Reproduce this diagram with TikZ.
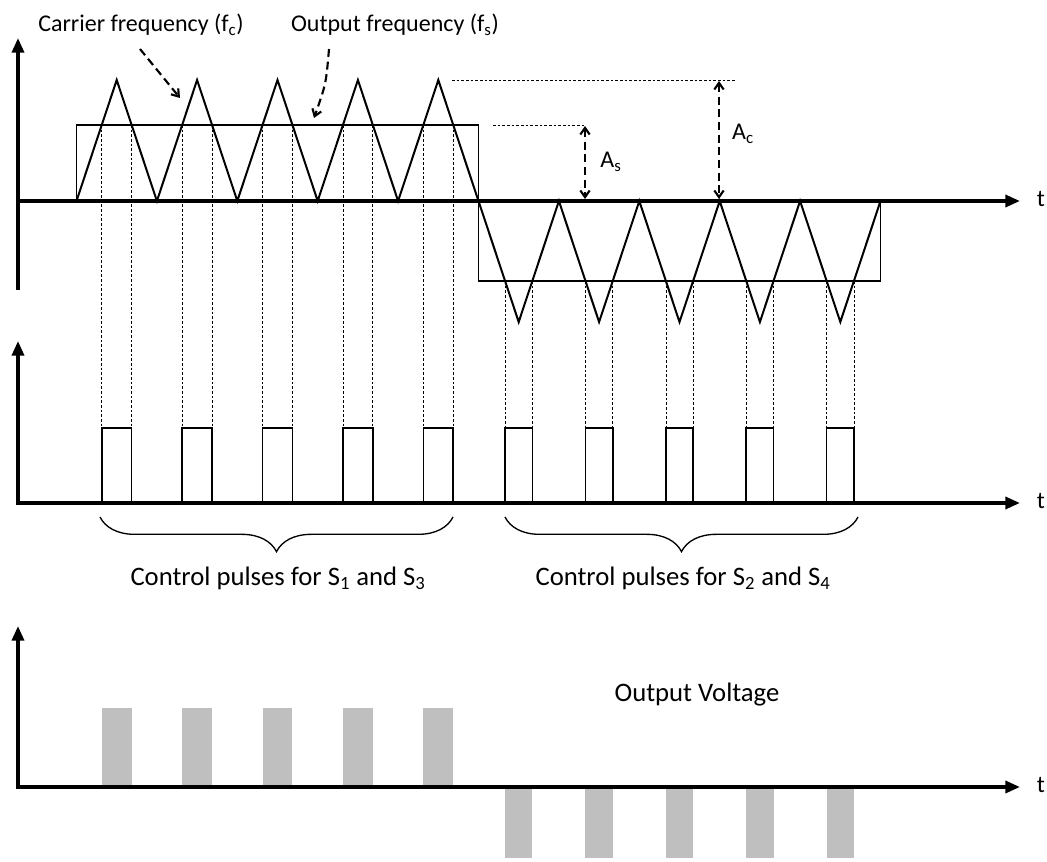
\documentclass[tikz,border=0pt]{standalone}
\usepackage{fontspec}
\setmainfont{Carlito}
\usetikzlibrary{arrows.meta,decorations.pathreplacing}
\begin{document}
\begin{tikzpicture}[x=0.75pt,y=-0.75pt,
  axisline/.style={line width=2.6pt,-{Triangle[length=11pt,width=9pt]}},
  triwave/.style={line width=1.5pt,line join=miter},
  sqwave/.style={line width=1.1pt},
  pulseline/.style={line width=1.2pt},
  guide/.style={line width=0.55pt,dash pattern=on 2pt off 1.5pt},
  dasharrow/.style={line width=1.6pt,dash pattern=on 6pt off 3.5pt,-{Straight Barb[length=5pt,width=7pt]}},
  dashboth/.style={line width=1.6pt,dash pattern=on 6pt off 3.5pt,{Straight Barb[length=5pt,width=7pt]}-{Straight Barb[length=5pt,width=7pt]}},
  greybar/.style={fill=black!25,draw=none},
  lbl/.style={font=\fontsize{18}{20}\selectfont,inner sep=0pt},
  biglbl/.style={font=\fontsize{20}{22}\selectfont,inner sep=0pt},
  bracestyle/.style={decorate,decoration={brace,mirror,amplitude=26pt},line width=1pt}
]
\useasboundingbox (0,0) rectangle (1047,862);

% ---------- panel 1: carrier and reference ----------
\draw[sqwave] (76.5,201) -- (76.5,125) -- (478.5,125) -- (478.5,281) -- (880.5,281) -- (880.5,201);
\draw[triwave] (76.5,201)
  \foreach \k in {0,...,4} { -- ({76.5+80.4*\k+40.2},80) -- ({76.5+80.4*(\k+1)},201) }
  \foreach \k in {0,...,4} { -- ({478.5+80.4*\k+40.2},322) -- ({478.5+80.4*(\k+1)},201) };

% guide lines and control pulses
\foreach \k in {0,...,4}{
  \pgfmathsetmacro\xa{76.5+80.4*\k+40.2*76/121}
  \pgfmathsetmacro\xb{76.5+80.4*\k+80.4-40.2*76/121}
  \draw[guide] (\xa,125) -- (\xa,428);
  \draw[guide] (\xb,125) -- (\xb,428);
  \draw[pulseline] (\xa,503) -- (\xa,428) -- (\xb,428) -- (\xb,503);
  \fill[greybar] (\xa,708) rectangle (\xb,787);
  \pgfmathsetmacro\xc{478.5+80.4*\k+40.2*80/121}
  \pgfmathsetmacro\xd{478.5+80.4*\k+80.4-40.2*80/121}
  \draw[guide] (\xc,281) -- (\xc,428);
  \draw[guide] (\xd,281) -- (\xd,428);
  \draw[pulseline] (\xc,503) -- (\xc,428) -- (\xd,428) -- (\xd,503);
  \fill[greybar] (\xc,789) rectangle (\xd,858);
}

% axes
\coordinate (o1) at (16,201);  \coordinate (x1) at (1020,201);
\coordinate (y1b) at (18,290); \coordinate (y1t) at (18,38);
\coordinate (o2) at (16,503);  \coordinate (x2) at (1020,503);
\coordinate (y2b) at (18,505); \coordinate (y2t) at (18,341);
\coordinate (o3) at (16,787);  \coordinate (x3) at (1020,787);
\coordinate (y3b) at (18,789); \coordinate (y3t) at (18,626);
\draw[axisline] (o1) -- (x1);
\draw[axisline] (y1b) -- (y1t);
\draw[axisline] (o2) -- (x2);
\draw[axisline] (y2b) -- (y2t);
\draw[axisline] (o3) -- (x3);
\draw[axisline] (y3b) -- (y3t);
\node[lbl] (t1) at (1041,199) {t};
\node[lbl] (t2) at (1041,501) {t};
\node[lbl] (t3) at (1041,785) {t};

% amplitude markers
\coordinate (asl) at (493,125); \coordinate (asr) at (585,125);
\coordinate (ast) at (585,126); \coordinate (asb) at (585,199);
\coordinate (acl) at (452,80);  \coordinate (acr) at (735,80);
\coordinate (act) at (719,81);  \coordinate (acb) at (719,199);
\draw[guide] (asl) -- (asr);
\draw[guide] (acl) -- (acr);
\draw[dashboth] (ast) -- (asb);
\draw[dashboth] (act) -- (acb);
\node[lbl] (As) at (611,162) {A\textsubscript{s}};
\node[lbl] (Ac) at (743,134) {A\textsubscript{c}};

% frequency labels
\node[lbl] (cf) at (141,25) {Carrier frequency (f\textsubscript{c})};
\node[lbl] (of) at (395,25) {Output frequency (f\textsubscript{s})};
\coordinate (cfa) at (140,49); \coordinate (cfb) at (180,98);
\coordinate (ofa) at (329,49); \coordinate (ofb) at (314,118);
\draw[dasharrow] (cfa) -- (cfb);
\draw[dasharrow] (ofa) .. controls (326,84) .. (ofb);

% braces
\coordinate (b1l) at (100,517); \coordinate (b1r) at (453,517);
\coordinate (b2l) at (505,517); \coordinate (b2r) at (858,517);
\draw[bracestyle] (b1l) -- (b1r);
\draw[bracestyle] (b2l) -- (b2r);
\node[biglbl] (cp1) at (278,578) {Control pulses for S\textsubscript{1} and S\textsubscript{3}};
\node[biglbl] (cp2) at (683,578) {Control pulses for S\textsubscript{2} and S\textsubscript{4}};

\node[biglbl] (ov) at (697,695) {Output Voltage};
\end{tikzpicture}
\end{document}
